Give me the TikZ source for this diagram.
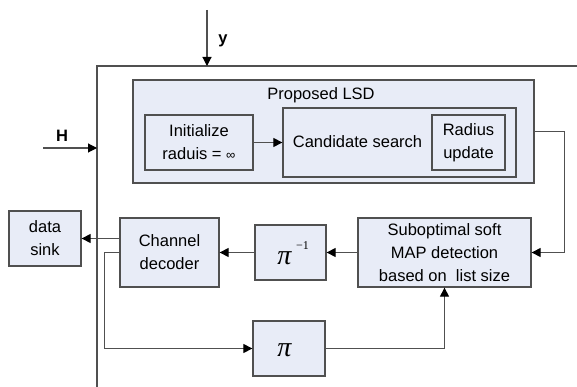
\documentclass[tikz,border=0pt]{standalone}
\usepackage{fontspec}
\setmainfont{Liberation Sans}
\newfontfamily\pifont{Liberation Serif}
\usetikzlibrary{arrows.meta,calc}
\definecolor{boxfill}{RGB}{232,236,247}
\definecolor{boxline}{RGB}{80,80,80}
\begin{document}
\begin{tikzpicture}[x=1pt,y=-1pt,
  blk/.style={draw=boxline,fill=boxfill,line width=1.3pt,inner sep=0pt,
    align=center,font=\fontsize{16.5}{23}\selectfont},
  txt/.style={inner sep=0pt,align=center,font=\fontsize{16.5}{23}\selectfont},
  arr/.style={draw=boxline,line width=1.1pt,-{Triangle[length=9pt,width=9pt,color=black]}},
  bigpi/.style={font=\fontsize{28}{28}\pifont\itshape}]
\useasboundingbox (0,0) rectangle (577,387);
% outer frame (top and left)
\draw[draw=boxline,line width=1.3pt] (97,387) -- (97,66) -- (577,66);
\coordinate (ysrc) at (207,10);
\coordinate (yin) at (207,66);
\coordinate (hsrc) at (43,148);
\coordinate (hin) at (97,148);
\draw[arr] (ysrc) -- (yin);
\node[txt,font=\fontsize{16.5}{20}\selectfont\bfseries] (ylab) at (223,41) {y};
\draw[arr] (hsrc) -- (hin);
\node[txt,font=\fontsize{16.5}{20}\selectfont\bfseries] (hlab) at (62,136) {H};
% LSD block
\node[blk,minimum width=401pt,minimum height=103pt] (lsd) at (333.5,131.5) {};
\node[txt] (lsdtitle) at (321,95) {Proposed LSD};
\node[blk,minimum width=108pt,minimum height=55pt] (init) at (199,142.5)
  {Initialize\\raduis = {\fontsize{13}{10}\selectfont ∞}};
\node[blk,minimum width=233pt,minimum height=69pt] (cand) at (399.5,142.5) {};
\node[txt] (candtxt) at (357.5,142) {Candidate search};
\node[blk,minimum width=73pt,minimum height=55pt] (rad) at (468.5,142.5) {Radius\\update};
% lower blocks
\node[blk,minimum width=173pt,minimum height=69pt] (smap) at (444.5,252.5)
  {Suboptimal soft\\MAP detection\\based on~ list size};
\node[blk,minimum width=71pt,minimum height=55pt] (pinv) at (290.5,252.5) {};
\node[inner sep=0pt,bigpi] (pinvsym) at (284.5,258) {π};
\node[inner sep=0pt,font=\fontsize{12}{12}\pifont] (pinvexp) at (302.5,246) {−1};
\node[blk,minimum width=99pt,minimum height=69pt] (dec) at (169.5,252.5) {Channel\\decoder};
\node[blk,minimum width=72pt,minimum height=55pt] (sink) at (45,238.5) {data\\sink};
\node[blk,minimum width=72pt,minimum height=55pt] (pib) at (289,348.5) {};
\node[inner sep=0pt,bigpi] (pibsym) at (284.5,350) {π};
% connectors
\draw[arr] (init.east) -- (cand.west);
\draw[arr] (lsd.east) -- ++(30,0) |- (smap.east);
\draw[arr] (smap.west) -- (pinv.east);
\draw[arr] (pinv.west) -- (dec.west -| dec.east);
\draw[arr] (dec.west |- sink.east) -- (sink.east);
\draw[arr] (dec.west) -- ++(-15,0) |- (pib.west);
\draw[arr] (pib.east) -| (smap.south);
\end{tikzpicture}
\end{document}
